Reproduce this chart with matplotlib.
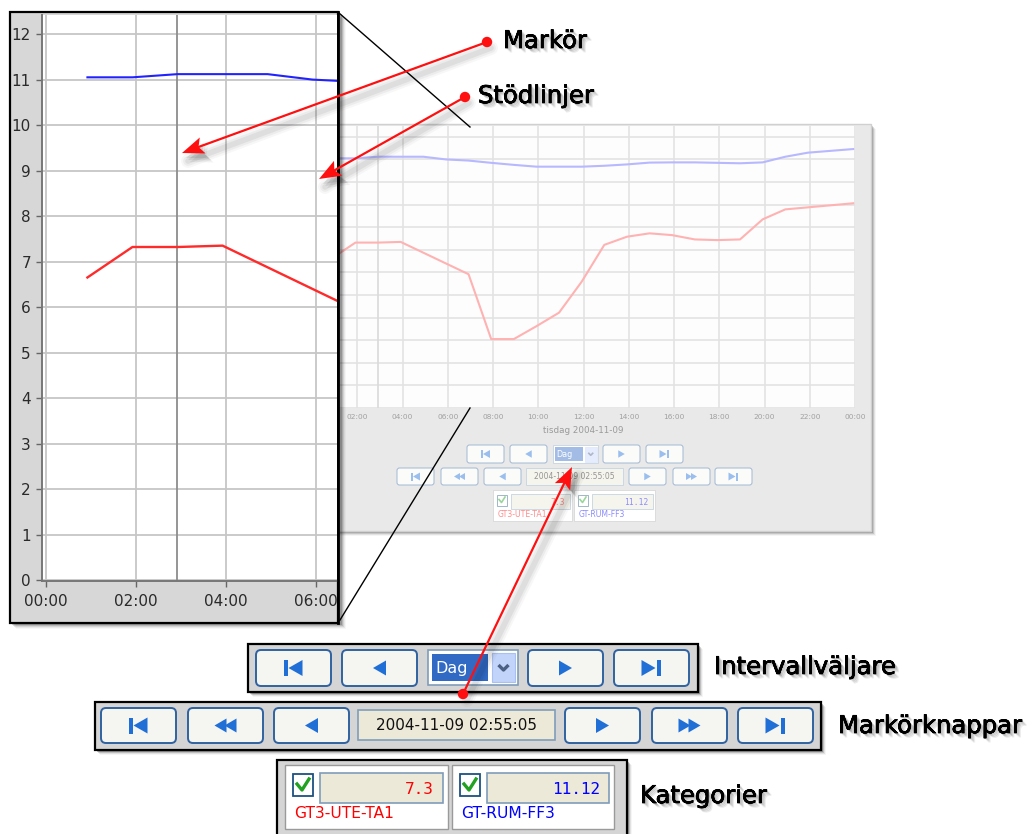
import matplotlib
matplotlib.use('Agg')
import matplotlib.pyplot as plt
from matplotlib.patches import Rectangle, FancyBboxPatch, Polygon, Circle
from matplotlib.colors import to_rgb
import matplotlib.patheffects as pe
import numpy as np

# ---------------- data ----------------
red_times = [0.92, 1.92, 2.92, 3.92, 6.92, 7.92, 8.92, 9.92, 10.92, 11.92, 12.92,
             13.92, 14.92, 15.92, 16.92, 17.92, 18.92, 19.92, 20.92, 21.92, 23.92]
red_vals = [6.65, 7.32, 7.32, 7.35, 5.92, 3.05, 3.05, 3.62, 4.22, 5.59, 7.22,
            7.58, 7.73, 7.65, 7.46, 7.43, 7.46, 8.35, 8.79, 8.88, 9.06]
blue_times = [0.92, 1.92, 2.92, 3.92, 4.92, 5.92, 6.92, 7.92, 8.92, 9.92, 10.92, 11.92,
              12.92, 13.92, 14.92, 15.92, 16.92, 17.92, 18.92, 19.92, 20.92, 21.92, 23.92]
blue_vals = [11.05, 11.05, 11.12, 11.12, 11.12, 11.00, 10.95, 10.85, 10.76, 10.68, 10.68, 10.68,
             10.72, 10.78, 10.86, 10.87, 10.87, 10.85, 10.83, 10.87, 11.12, 11.30, 11.46]
cursor_time = 2.918
cursor_text = "2004-11-09 02:55:05"
day_text = "tisdag 2004-11-09"
interval_text = "Dag"
series_names = ["GT3-UTE-TA1", "GT-RUM-FF3"]
series_values = ["7.3", "11.12"]
series_colors = ["#ff0000", "#0000ff"]
inset_xticks = [0, 2, 4, 6]
inset_xlabels = ["00:00", "02:00", "04:00", "06:00"]
inset_yticks = list(range(0, 13))
bg_xticks = list(range(0, 25, 2))
bg_xlabels = ["00:00", "02:00", "04:00", "06:00", "08:00", "10:00", "12:00",
              "14:00", "16:00", "18:00", "20:00", "22:00", "00:00"]
labels = ["Markör", "Stödlinjer", "Intervallväljare", "Markörknappar", "Kategorier"]

W, H = 1031, 834
fig = plt.figure(figsize=(W / 100, H / 100), dpi=100)
fig.patch.set_facecolor('white')


def fade(c, f):
    r = to_rgb(c)
    return tuple(v + (1 - v) * f for v in r)


def overlay(z):
    ax = fig.add_axes([0, 0, 1, 1])
    ax.set_xlim(0, W)
    ax.set_ylim(H, 0)
    ax.axis('off')
    ax.patch.set_visible(False)
    ax.set_zorder(z)
    return ax


def px_axes(x0, y0, x1, y1, z):
    ax = fig.add_axes([x0 / W, 1 - y1 / H, (x1 - x0) / W, (y1 - y0) / H])
    ax.set_zorder(z)
    return ax


def tri(cx, cy, d, w, h):
    if d == 'L':
        return [(cx - w / 2, cy), (cx + w / 2, cy - h / 2), (cx + w / 2, cy + h / 2)]
    return [(cx + w / 2, cy), (cx - w / 2, cy - h / 2), (cx - w / 2, cy + h / 2)]


def icon(ax, cx, cy, kind, s, f, z):
    col = fade('#1f6fd6', f)
    polys = []
    if kind == 'first':
        ax.add_patch(Rectangle((cx - 10 * s, cy - 8 * s), 4 * s, 16 * s, fc=col, ec='none', zorder=z))
        polys.append(tri(cx + 2 * s, cy, 'L', 14 * s, 16 * s))
    elif kind == 'prev':
        polys.append(tri(cx, cy, 'L', 13 * s, 15 * s))
    elif kind == 'next':
        polys.append(tri(cx, cy, 'R', 13 * s, 15 * s))
    elif kind == 'last':
        polys.append(tri(cx - 3 * s, cy, 'R', 14 * s, 16 * s))
        ax.add_patch(Rectangle((cx + 5 * s, cy - 8 * s), 4 * s, 16 * s, fc=col, ec='none', zorder=z))
    elif kind == 'rew':
        polys.append(tri(cx - 5 * s, cy, 'L', 12 * s, 14 * s))
        polys.append(tri(cx + 5 * s, cy, 'L', 12 * s, 14 * s))
    elif kind == 'ff':
        polys.append(tri(cx - 5 * s, cy, 'R', 12 * s, 14 * s))
        polys.append(tri(cx + 5 * s, cy, 'R', 12 * s, 14 * s))
    for p in polys:
        ax.add_patch(Polygon(p, closed=True, fc=col, ec='none', zorder=z))


def button(ax, x, y, w, h, kind, s, f, z):
    ax.add_patch(FancyBboxPatch((x, y), w, h, boxstyle=f"round,pad=0,rounding_size={5 * s}",
                                fc=fade('#f5f5f1', f), ec=fade('#2f62a0', f), lw=1.4 * s, zorder=z))
    icon(ax, x + w / 2, y + h / 2, kind, s, f, z + 0.1)


def combo(ax, x, y, w, h, s, f, z):
    ax.add_patch(Rectangle((x, y), w, h, fc='white', ec=fade('#7f9db9', f), lw=1.2 * s, zorder=z))
    ax.add_patch(Rectangle((x + 4 * s, y + 4 * s), w - 34 * s, h - 8 * s, fc=fade('#316ac5', f),
                           ec='none', zorder=z + 0.1))
    ax.text(x + 7 * s, y + h / 2 + 0.5 * s, interval_text, color='white', fontsize=11.5 * s,
            ha='left', va='center', zorder=z + 0.2)
    ax.add_patch(Rectangle((x + w - 26 * s, y + 3 * s), 23 * s, h - 6 * s, fc=fade('#c3d4fb', f),
                           ec=fade('#aac0ee', f), lw=0.8 * s, zorder=z + 0.1))
    cx, cy = x + w - 14.5 * s, y + h / 2
    ax.plot([cx - 5 * s, cx, cx + 5 * s], [cy - 2.5 * s, cy + 2.5 * s, cy - 2.5 * s],
            color=fade('#4d6185', f), lw=2.4 * s, zorder=z + 0.2, solid_capstyle='butt')


def field(ax, x, y, w, h, text, s, f, z):
    ax.add_patch(Rectangle((x, y), w, h, fc=fade('#ece9d8', f), ec=fade('#7f9db9', f), lw=1.2 * s, zorder=z))
    ax.text(x + w / 2, y + h / 2 + 0.5 * s, text, color=fade('#111111', f), fontsize=11 * s,
            ha='center', va='center', zorder=z + 0.1)


def legend_box(ax, x, y, w, h, val, name, color, s, f, z):
    ax.add_patch(Rectangle((x, y), w, h, fc='white', ec=fade('#9a9a9a', f), lw=1.0 * s, zorder=z))
    ax.add_patch(Rectangle((x + 8 * s, y + 9 * s), 20 * s, 22 * s, fc='white', ec=fade('#1c5180', f),
                           lw=1.3 * s, zorder=z + 0.1))
    ax.plot([x + 12 * s, x + 17 * s, x + 24 * s], [y + 19 * s, y + 25 * s, y + 14 * s],
            color=fade('#21a121', f), lw=2.4 * s, zorder=z + 0.2)
    ax.add_patch(Rectangle((x + 35 * s, y + 8 * s), w - 40 * s, 30 * s, fc=fade('#ece9d8', f),
                           ec=fade('#7f9db9', f), lw=1.2 * s, zorder=z + 0.1))
    ax.text(x + w - 14 * s, y + 24 * s, val, color=fade(color, f), fontsize=11.5 * s,
            family='DejaVu Sans Mono', ha='right', va='center', zorder=z + 0.2)
    ax.text(x + 9 * s, y + 49 * s, name, color=fade(color, f), fontsize=11.2 * s,
            ha='left', va='center', zorder=z + 0.2)


def arrow(ax, x0, y0, x1, y1, z):
    d = np.array([x1 - x0, y1 - y0], float)
    d /= np.hypot(*d)
    n = np.array([-d[1], d[0]])
    tip = np.array([x1, y1])
    L, Wd = 22, 8.5
    base = tip - L * d
    back = tip - 0.8 * L * d
    head = [tip, base + Wd * n, back, base - Wd * n]
    for lw, a in [(10, 0.03), (7, 0.045), (4, 0.06)]:
        ax.plot([x0 + 4, x1 + 6], [y0 + 6, y1 + 8], color='black', alpha=a, lw=lw,
                solid_capstyle='round', zorder=z)
    for off, a in [(4, 0.10), (6, 0.08), (8, 0.05)]:
        ax.add_patch(Polygon([(p[0] + off, p[1] + off + 1) for p in head], closed=True, fc='black',
                             alpha=a, ec='none', zorder=z))
    ax.plot([x0, back[0]], [y0, back[1]], color='#ff1010', lw=1.6, zorder=z + 0.1)
    ax.add_patch(Polygon(head, closed=True, fc='#ff1010', ec='none', zorder=z + 0.2))
    ax.add_patch(Circle((x0, y0), 5.2, fc='#ff1010', ec='none', zorder=z + 0.2))


shadow_fx = [pe.withSimplePatchShadow(offset=(o, -o), shadow_rgbFace='#404040', alpha=a)
             for o, a in [(3.2, 0.10), (2.4, 0.14), (1.6, 0.18), (0.8, 0.2)]] + \
            [pe.withStroke(linewidth=0.5, foreground='black'), pe.Normal()]

# ---------------- background (faded) screenshot ----------------
ov0 = overlay(0)
for k, a in enumerate([0.35, 0.25, 0.15, 0.08]):
    ov0.add_patch(Rectangle((300 + k + 2, 124 + k + 2), 571, 407, fc='black', ec='none', alpha=a * 0.5, zorder=1))
ov0.add_patch(Rectangle((300, 124), 571, 407, fc='#e9e9e9', ec='#d0d0d0', lw=1, zorder=2))

axbg = px_axes(312, 126, 855, 408, 1)
axbg.set_facecolor('#fdfdfd')
axbg.set_xlim(0, 24)
axbg.set_ylim(0, 12.48)
for t in bg_xticks:
    axbg.axvline(t, color='#e3e3e3', lw=1.2, zorder=0)
for v in range(0, 13):
    axbg.axhline(v, color='#e3e3e3', lw=1.2, zorder=0)
axbg.axvline(cursor_time, color='#dadada', lw=1.2, zorder=0)
axbg.plot(red_times, red_vals, color='#ffb2b2', lw=1.5, zorder=2)
axbg.plot(blue_times, blue_vals, color='#b8b8ff', lw=1.5, zorder=2)
axbg.set_xticks(bg_xticks)
axbg.set_xticklabels(bg_xlabels)
axbg.set_yticks([])
axbg.tick_params(axis='x', length=0, pad=4, labelsize=5.3, labelcolor='#a0a0a0')
for sp in axbg.spines.values():
    sp.set_visible(False)

ov1 = overlay(2)
ov1.text(583, 430, day_text, fontsize=6.3, color='#9a9a9a', ha='center', va='center')
fb = 0.55
for bx, kind in zip([467, 510, 603, 646], ['first', 'prev', 'next', 'last']):
    button(ov1, bx, 445, 37, 18, kind, 0.5, fb, 3)
combo(ov1, 553, 445, 45, 18, 0.5, fb, 3)
for bx, kind in zip([397, 441, 484, 629, 673, 715], ['first', 'rew', 'prev', 'next', 'ff', 'last']):
    button(ov1, bx, 468, 37, 17, kind, 0.5, fb, 3)
field(ov1, 526, 468, 97, 17, cursor_text, 0.5, fb, 3)
legend_box(ov1, 493, 490, 79, 31, series_values[0], series_names[0], series_colors[0], 0.5, fb, 3)
legend_box(ov1, 574, 490, 81, 31, series_values[1], series_names[1], series_colors[1], 0.5, fb, 3)

# inset panel
for k, a in enumerate([0.30, 0.22, 0.15, 0.09, 0.05]):
    ov1.add_patch(Rectangle((10 + k + 2, 12 + k + 2), 328 + 2, 611, fc='black', ec='none', alpha=a * 0.6, zorder=5))
ov1.add_patch(Rectangle((10, 12), 328, 611, fc='#d7d7d7', ec='black', lw=1.6, zorder=6))

# ---------------- inset chart ----------------
axin = px_axes(42, 15, 337, 581, 3)
axin.set_facecolor('white')
axin.set_xlim(-0.088, 6.46)
axin.set_ylim(-0.022, 12.42)
for t in inset_xticks:
    axin.axvline(t, color='#c6c6c6', lw=1.3, zorder=0)
for v in inset_yticks:
    axin.axhline(v, color='#c6c6c6', lw=1.3, zorder=0)
axin.axvline(cursor_time, color='#8c8c8c', lw=1.3, zorder=1)
axin.plot(red_times, red_vals, color='#ff2a2a', lw=1.7, zorder=3)
axin.plot(blue_times, blue_vals, color='#2222ff', lw=1.5, zorder=3)
axin.set_xticks(inset_xticks)
axin.set_xticklabels(inset_xlabels)
axin.set_yticks(inset_yticks)
axin.tick_params(direction='out', length=4, width=1, color='#666666', labelsize=11,
                 labelcolor='#2a2a2a')
axin.tick_params(axis='x', pad=5)
axin.tick_params(axis='y', pad=4)
for k in ['top', 'right']:
    axin.spines[k].set_visible(False)
for k in ['left', 'bottom']:
    axin.spines[k].set_color('#777777')
    axin.spines[k].set_linewidth(1.4)

# ---------------- foreground annotations & widgets ----------------
ov2 = overlay(4)
ov2.plot([338, 338], [12, 623], color='black', lw=2.0, zorder=2)
ov2.plot([339, 470], [13, 127], color='black', lw=1.0, zorder=3)
ov2.plot([340, 470], [620, 408], color='black', lw=1.0, zorder=3)

panels = [(248, 644, 450, 48), (95, 702, 726, 48), (277, 760, 350, 80)]
for (px, py, pw, ph) in panels:
    for k, a in enumerate([0.25, 0.15, 0.08, 0.04]):
        ov2.add_patch(Rectangle((px + k + 2, py + k + 2), pw, ph, fc='black', ec='none', alpha=a, zorder=4))
for (px, py, pw, ph) in panels:
    ov2.add_patch(Rectangle((px, py), pw, ph, fc='#d5d5d5', ec='black', lw=1.6, zorder=5))

for bx, kind in zip([256, 342, 528, 614], ['first', 'prev', 'next', 'last']):
    button(ov2, bx, 650, 75, 36, kind, 1, 0, 6)
combo(ov2, 428, 650, 90, 35, 1, 0, 6)
for bx, kind in zip([101, 188, 274, 565, 652, 738], ['first', 'rew', 'prev', 'next', 'ff', 'last']):
    button(ov2, bx, 708, 75, 35, kind, 1, 0, 6)
field(ov2, 358, 710, 197, 30, cursor_text, 1, 0, 6)
legend_box(ov2, 285, 765, 163, 64, series_values[0], series_names[0], series_colors[0], 1, 0, 6)
legend_box(ov2, 452, 765, 162, 64, series_values[1], series_names[1], series_colors[1], 1, 0, 6)

arrow(ov2, 487, 42, 182, 153, 10)
arrow(ov2, 465, 97, 319, 179, 10)
arrow(ov2, 463, 694, 572, 467, 10)

label_pos = [(503, 41), (478, 96), (714, 667), (838, 726), (640, 796)]
for txt, (lx, ly) in zip(labels, label_pos):
    t = ov2.text(lx, ly, txt, fontsize=17.5, color='black', ha='left', va='center', zorder=12)
    t.set_path_effects(shadow_fx)

fig.savefig('out.png', dpi=100, facecolor='white')
